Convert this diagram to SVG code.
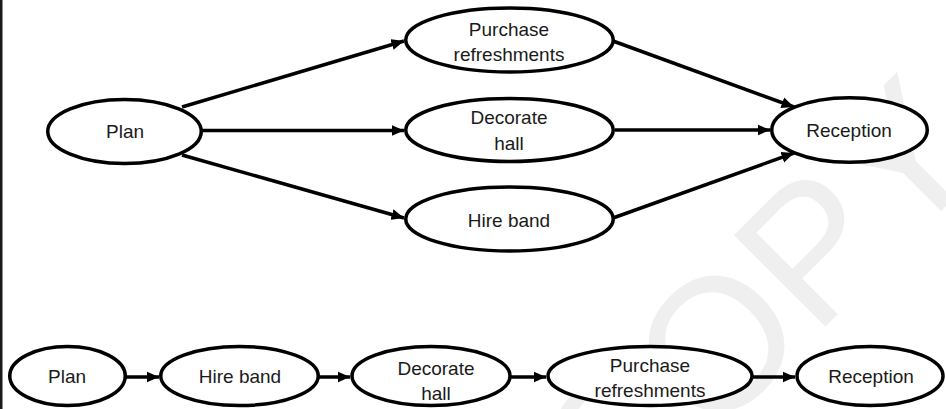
<svg xmlns="http://www.w3.org/2000/svg" width="946" height="409" viewBox="0 0 946 409">
<style>
.node ellipse{fill:#fff;stroke:#000;stroke-width:3.5}
.node text{font-family:"Liberation Sans",Arial,sans-serif;font-size:19px;fill:#1a1a1a;text-anchor:middle}
.conn line{stroke:#000;stroke-width:3.5;fill:none}
.wm{font-family:"Liberation Sans",Arial,sans-serif;font-size:188px;fill:#efefef}
</style>
<defs>
<marker id="arr" markerUnits="userSpaceOnUse" markerWidth="14" markerHeight="12" refX="12.5" refY="6" orient="auto" viewBox="0 0 14 12">
<path d="M0,0.5 L12.5,6 L0,11.5 z" fill="#000"/>
</marker>
</defs>
<rect x="0" y="0" width="946" height="409" fill="#fff"/>
<text class="wm" transform="translate(615,537) rotate(-45)">COPY</text>
<line x1="1.25" y1="0" x2="1.25" y2="409" stroke="#1a1a1a" stroke-width="2.5"/>

<g id="connectors" class="conn">
<line x1="182" y1="107" x2="404" y2="41" marker-end="url(#arr)"/>
<line x1="202" y1="130.5" x2="404" y2="130.5" marker-end="url(#arr)"/>
<line x1="182" y1="155" x2="404" y2="218" marker-end="url(#arr)"/>
<line x1="613" y1="41" x2="794" y2="107" marker-end="url(#arr)"/>
<line x1="615" y1="130" x2="770" y2="130" marker-end="url(#arr)"/>
<line x1="613" y1="218" x2="794" y2="153" marker-end="url(#arr)"/>
<line x1="126" y1="377" x2="159" y2="377" marker-end="url(#arr)"/>
<line x1="319" y1="377" x2="350" y2="377" marker-end="url(#arr)"/>
<line x1="511" y1="377" x2="546" y2="377" marker-end="url(#arr)"/>
<line x1="753" y1="377" x2="795" y2="377" marker-end="url(#arr)"/>
</g>

<g id="plan1" class="node"><ellipse cx="124.5" cy="131.5" rx="76.75" ry="32"/><text x="125" y="138">Plan</text></g>
<g id="purchase1" class="node"><ellipse cx="509.5" cy="40" rx="103.75" ry="32"/><text x="509" y="36">Purchase</text><text x="509" y="61">refreshments</text></g>
<g id="decorate1" class="node"><ellipse cx="509.5" cy="130" rx="103.75" ry="31.5"/><text x="509" y="124">Decorate</text><text x="509" y="150">hall</text></g>
<g id="hire1" class="node"><ellipse cx="509.5" cy="219" rx="103.75" ry="32"/><text x="509" y="227">Hire band</text></g>
<g id="reception1" class="node"><ellipse cx="849.5" cy="130" rx="77.75" ry="32.25"/><text x="849" y="137">Reception</text></g>

<g id="plan2" class="node"><ellipse cx="67.5" cy="376" rx="57.75" ry="29.5"/><text x="67" y="383">Plan</text></g>
<g id="hire2" class="node"><ellipse cx="239.5" cy="376" rx="78.75" ry="29.5"/><text x="240" y="383">Hire band</text></g>
<g id="decorate2" class="node"><ellipse cx="431" cy="376" rx="79" ry="29.5"/><text x="436" y="375">Decorate</text><text x="436" y="400">hall</text></g>
<g id="purchase2" class="node"><ellipse cx="650" cy="376" rx="102" ry="29.5"/><text x="650" y="372">Purchase</text><text x="650" y="397">refreshments</text></g>
<g id="reception2" class="node"><ellipse cx="870" cy="376" rx="73" ry="29.5"/><text x="871" y="383">Reception</text></g>
</svg>
